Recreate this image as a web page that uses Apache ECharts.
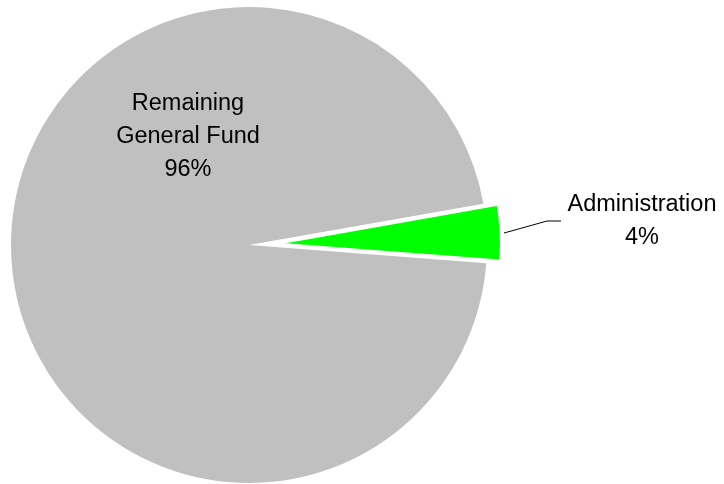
<!DOCTYPE html>
<html>
<head>
<meta charset="utf-8">
<script src="https://cdn.jsdelivr.net/npm/echarts@6/dist/echarts.min.js"></script>
<style>html,body{margin:0;padding:0;background:#fff;}#c{width:724px;height:484px;}</style>
</head>
<body>
<div id="c"></div>
<script>
const categories = ['Administration', 'Remaining\nGeneral Fund'];
const values = [4, 96];
const colors = ['#00FF00', '#C0C0C0'];

const chart = echarts.init(document.getElementById('c'), null, {renderer: 'canvas'});
const labelFont = {fontFamily: 'Liberation Sans, Arial, sans-serif', fontSize: 23.5, lineHeight: 33, color: '#000'};

function makeData(showIndex) {
  return values.map((v, i) => ({
    name: categories[i],
    value: v,
    itemStyle: {color: i === showIndex ? colors[i] : 'rgba(0,0,0,0)'},
    label: {show: i === showIndex},
    labelLine: {show: i === showIndex && i === 0}
  }));
}

// explosion of the Administration slice: 37px along its mid-angle (10 - 7.2 = 2.8 deg)
const explode = 37, midAng = 2.8 * Math.PI / 180;

chart.setOption({
  animation: false,
  backgroundColor: '#fff',
  series: [
    {
      type: 'pie',
      center: [249, 245],
      radius: [0, 238],
      startAngle: 10,
      clockwise: true,
      silent: true,
      avoidLabelOverlap: false,
      percentPrecision: 0,
      label: Object.assign({position: 'inside', formatter: '{b}\n{d}%', align: 'center'}, labelFont),
      labelLayout: function (p) {
        return {x: 188, y: 137, align: 'center', verticalAlign: 'middle'};
      },
      emphasis: {disabled: true},
      data: makeData(1)
    },
    {
      type: 'pie',
      center: [249 + explode * Math.cos(midAng), 245 - explode * Math.sin(midAng)],
      radius: [0, 214],
      startAngle: 10,
      clockwise: true,
      silent: true,
      avoidLabelOverlap: false,
      percentPrecision: 0,
      label: Object.assign({position: 'outside', alignTo: 'none', formatter: '{b}\n{d}%', align: 'center'}, labelFont),
      labelLine: {show: true, lineStyle: {color: '#000', width: 1}},
      labelLayout: function (p) {
        return {x: 642, y: 221, align: 'center', verticalAlign: 'middle',
                labelLinePoints: [[504, 233], [547, 221], [561, 221]]};
      },
      emphasis: {disabled: true},
      data: makeData(0)
    }
  ]
});
</script>
</body>
</html>
